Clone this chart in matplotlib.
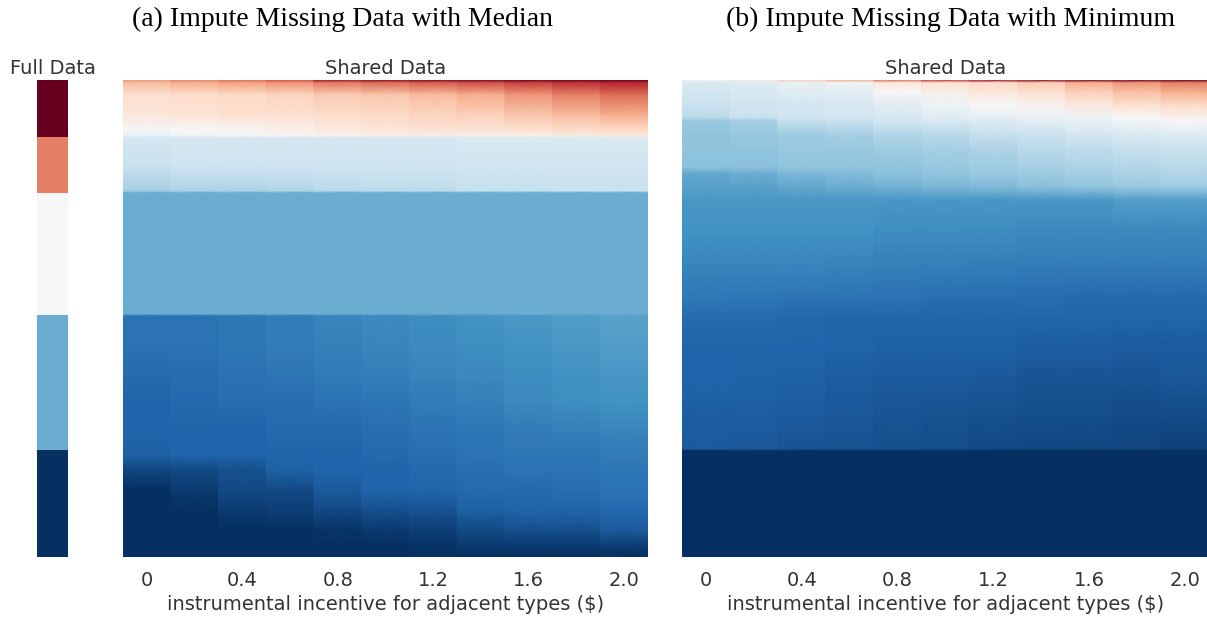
import numpy as np
import matplotlib.pyplot as plt

# x categories: instrumental incentive ($)
incentives = [0.0, 0.2, 0.4, 0.6, 0.8, 1.0, 1.2, 1.4, 1.6, 1.8, 2.0]
tick_labels = ["0", "0.4", "0.8", "1.2", "1.6", "2.0"]

# full data: share of participants per type (top to bottom) and its score
full_shares = [0.120, 0.117, 0.256, 0.283, 0.224]
full_values = [1.00, 0.75, 0.50, 0.25, 0.00]

# (a) median imputation: row quantiles (0 = top) and score per incentive column
median_rows = [0.000, 0.006, 0.031, 0.073, 0.105, 0.117, 0.122, 0.178, 0.233,
               0.237, 0.491, 0.495, 0.556, 0.608, 0.671, 0.734, 0.786, 0.818,
               0.860, 0.901, 0.943, 0.975, 1.000]
median_cols = [
    [0.72, 0.66, 0.58, 0.56, 0.49, 0.46, 0.41, 0.39, 0.33, 0.25, 0.25,
     0.13, 0.13, 0.115, 0.10, 0.10, 0.09, 0.04, 0.00, 0.00, 0.00, 0.00, 0.00],
    [0.75, 0.68, 0.59, 0.57, 0.50, 0.48, 0.41, 0.40, 0.34, 0.25, 0.25,
     0.13, 0.13, 0.12, 0.11, 0.10, 0.10, 0.05, 0.02, 0.00, 0.00, 0.00, 0.00],
    [0.78, 0.70, 0.60, 0.58, 0.51, 0.49, 0.41, 0.40, 0.34, 0.25, 0.25,
     0.14, 0.14, 0.13, 0.12, 0.10, 0.10, 0.06, 0.05, 0.02, 0.00, 0.00, 0.00],
    [0.82, 0.72, 0.61, 0.58, 0.53, 0.51, 0.41, 0.40, 0.35, 0.25, 0.25,
     0.15, 0.15, 0.14, 0.12, 0.11, 0.10, 0.09, 0.05, 0.03, 0.00, 0.00, 0.00],
    [0.92, 0.76, 0.63, 0.59, 0.55, 0.52, 0.41, 0.40, 0.36, 0.25, 0.25,
     0.17, 0.16, 0.15, 0.13, 0.11, 0.10, 0.10, 0.08, 0.05, 0.01, 0.00, 0.00],
    [0.95, 0.78, 0.64, 0.60, 0.56, 0.53, 0.41, 0.40, 0.37, 0.25, 0.25,
     0.18, 0.17, 0.16, 0.14, 0.12, 0.11, 0.10, 0.10, 0.06, 0.02, 0.00, 0.00],
    [0.97, 0.80, 0.66, 0.61, 0.57, 0.53, 0.41, 0.40, 0.37, 0.25, 0.25,
     0.19, 0.18, 0.17, 0.15, 0.13, 0.12, 0.11, 0.10, 0.07, 0.03, 0.01, 0.00],
    [0.98, 0.82, 0.68, 0.62, 0.57, 0.53, 0.42, 0.40, 0.38, 0.25, 0.25,
     0.20, 0.19, 0.18, 0.16, 0.14, 0.13, 0.12, 0.11, 0.09, 0.05, 0.02, 0.00],
    [0.99, 0.84, 0.72, 0.64, 0.58, 0.53, 0.42, 0.40, 0.38, 0.25, 0.25,
     0.21, 0.20, 0.19, 0.18, 0.15, 0.14, 0.13, 0.11, 0.10, 0.06, 0.02, 0.00],
    [1.00, 0.86, 0.75, 0.66, 0.59, 0.54, 0.42, 0.40, 0.39, 0.25, 0.25,
     0.22, 0.21, 0.20, 0.19, 0.16, 0.14, 0.13, 0.12, 0.10, 0.06, 0.02, 0.00],
    [1.00, 0.88, 0.78, 0.68, 0.60, 0.55, 0.42, 0.40, 0.39, 0.25, 0.25,
     0.23, 0.22, 0.21, 0.20, 0.17, 0.15, 0.14, 0.13, 0.11, 0.08, 0.03, 0.00],
]

# (b) minimum imputation
minimum_rows = [0.000, 0.006, 0.025, 0.052, 0.078, 0.086, 0.115, 0.147, 0.184,
                0.197, 0.224, 0.252, 0.314, 0.388, 0.461, 0.503, 0.566, 0.629,
                0.713, 0.774, 0.778, 1.000]
minimum_cols = [
    [0.48, 0.42, 0.41, 0.39, 0.37, 0.31, 0.30, 0.30, 0.29, 0.24, 0.23,
     0.21, 0.20, 0.17, 0.14, 0.11, 0.10, 0.10, 0.085, 0.08, 0.00, 0.00],
    [0.55, 0.43, 0.42, 0.40, 0.39, 0.33, 0.31, 0.30, 0.29, 0.25, 0.23,
     0.21, 0.20, 0.17, 0.135, 0.11, 0.10, 0.095, 0.085, 0.075, 0.00, 0.00],
    [0.62, 0.46, 0.44, 0.41, 0.40, 0.38, 0.32, 0.31, 0.30, 0.27, 0.24,
     0.21, 0.20, 0.17, 0.13, 0.105, 0.10, 0.09, 0.08, 0.07, 0.00, 0.00],
    [0.68, 0.48, 0.45, 0.42, 0.41, 0.39, 0.33, 0.31, 0.30, 0.28, 0.25,
     0.21, 0.20, 0.165, 0.13, 0.10, 0.095, 0.085, 0.075, 0.065, 0.00, 0.00],
    [0.78, 0.56, 0.50, 0.44, 0.42, 0.41, 0.35, 0.32, 0.30, 0.29, 0.26,
     0.21, 0.19, 0.16, 0.125, 0.10, 0.09, 0.08, 0.07, 0.06, 0.00, 0.00],
    [0.86, 0.58, 0.53, 0.47, 0.44, 0.42, 0.36, 0.33, 0.31, 0.30, 0.27,
     0.21, 0.19, 0.16, 0.12, 0.10, 0.09, 0.08, 0.065, 0.055, 0.00, 0.00],
    [0.93, 0.60, 0.56, 0.50, 0.45, 0.43, 0.38, 0.34, 0.32, 0.31, 0.28,
     0.21, 0.19, 0.155, 0.12, 0.10, 0.09, 0.075, 0.06, 0.05, 0.00, 0.00],
    [0.96, 0.63, 0.58, 0.52, 0.47, 0.45, 0.39, 0.36, 0.33, 0.32, 0.29,
     0.21, 0.18, 0.15, 0.115, 0.10, 0.085, 0.07, 0.055, 0.045, 0.00, 0.00],
    [0.98, 0.68, 0.62, 0.55, 0.48, 0.46, 0.41, 0.37, 0.34, 0.33, 0.30,
     0.21, 0.18, 0.15, 0.11, 0.10, 0.085, 0.07, 0.055, 0.04, 0.00, 0.00],
    [0.99, 0.72, 0.65, 0.58, 0.50, 0.48, 0.42, 0.38, 0.35, 0.34, 0.31,
     0.22, 0.18, 0.15, 0.11, 0.10, 0.08, 0.07, 0.05, 0.04, 0.00, 0.00],
    [1.00, 0.75, 0.68, 0.60, 0.52, 0.50, 0.43, 0.39, 0.36, 0.35, 0.32,
     0.22, 0.18, 0.15, 0.11, 0.10, 0.08, 0.075, 0.05, 0.035, 0.00, 0.00],
]

cmap = "RdBu_r"
text_col = "#333333"
W, H = 1207, 617


def px_axes(fig, x0, y0, x1, y1):
    return fig.add_axes([x0 / W, 1 - y1 / H, (x1 - x0) / W, (y1 - y0) / H])


def clean(ax):
    for s in ax.spines.values():
        s.set_visible(False)
    ax.set_ylim(1, 0)
    ax.set_yticks([])


def draw_shared(ax, rows, cols):
    for i, vals in enumerate(cols):
        c = np.column_stack([vals, vals])
        ax.pcolormesh([i, i + 1], rows, c, cmap=cmap, vmin=0, vmax=1,
                      shading="gouraud")
    clean(ax)
    ax.set_xlim(0, len(incentives))
    ax.set_xticks([i + 0.5 for i in range(0, len(incentives), 2)])
    ax.set_xticklabels(tick_labels)
    ax.tick_params(axis="x", length=0, pad=10, labelsize=14, labelcolor=text_col)
    ax.set_xlabel("instrumental incentive for adjacent types ($)", fontsize=14,
                  color=text_col, labelpad=4)
    ax.set_title("Shared Data", fontsize=14, color=text_col, pad=4)


fig = plt.figure(figsize=(W / 100, H / 100), dpi=100)

# full data column
ax_full = px_axes(fig, 37, 80, 68, 557)
edges = np.concatenate([[0], np.cumsum(full_shares)])
ax_full.pcolormesh([0, 1], edges, np.array(full_values).reshape(-1, 1),
                   cmap=cmap, vmin=0, vmax=1)
clean(ax_full)
ax_full.set_ylim(edges[-1], 0)
ax_full.set_xticks([])
ax_full.set_title("Full Data", fontsize=14, color=text_col, pad=4)

ax_a = px_axes(fig, 123, 80, 648, 557)
draw_shared(ax_a, median_rows, median_cols)

ax_b = px_axes(fig, 682, 80, 1209, 557)
draw_shared(ax_b, minimum_rows, minimum_cols)

title_kw = dict(fontsize=20, family="Liberation Serif", ha="center", va="center")
fig.text(342 / W, 1 - 19 / H, "(a) Impute Missing Data with Median", **title_kw)
fig.text(951 / W, 1 - 19 / H, "(b) Impute Missing Data with Minimum", **title_kw)

fig.savefig("out.png", dpi=100)
